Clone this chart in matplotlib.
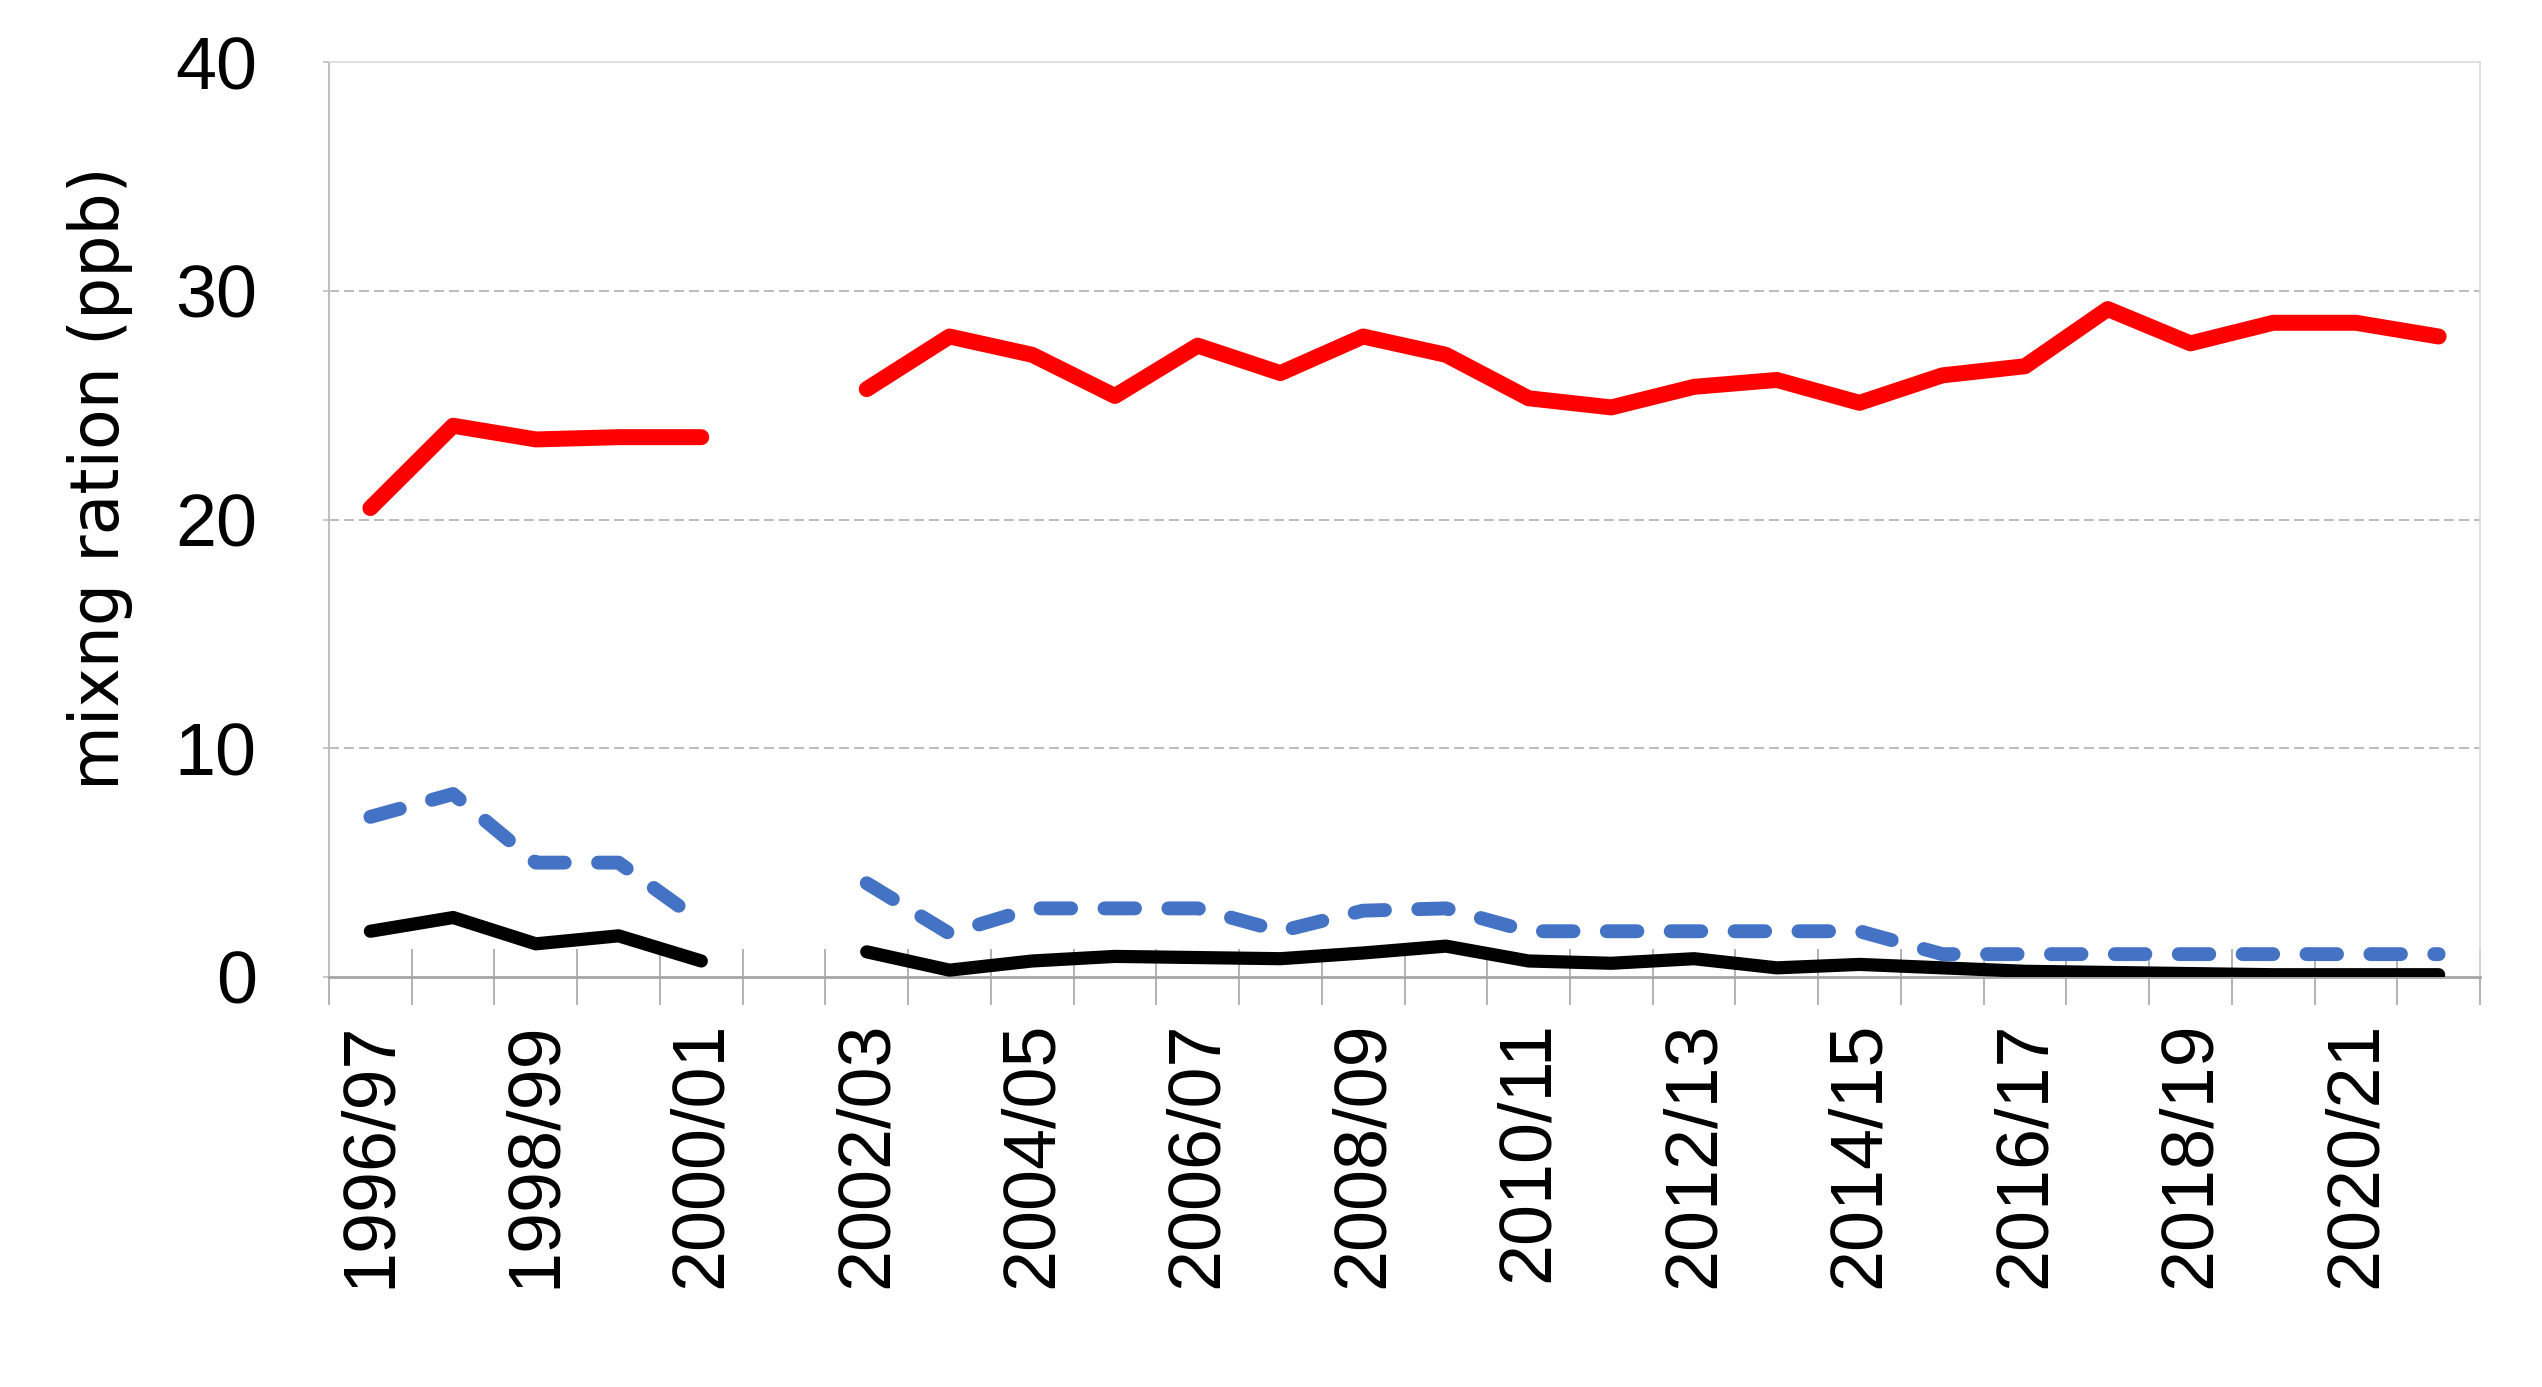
#!/usr/bin/env python3
"""Seasonal mixing ratio line chart (1996/97 - 2021/22)."""

import matplotlib as mpl
import matplotlib.pyplot as plt
import numpy as np
from matplotlib.ticker import FixedLocator, NullFormatter

DPI = 100
W, H = 2542, 1387

SEASONS = [
    "1996/97", "1997/98", "1998/99", "1999/00", "2000/01", "2001/02",
    "2002/03", "2003/04", "2004/05", "2005/06", "2006/07", "2007/08",
    "2008/09", "2009/10", "2010/11", "2011/12", "2012/13", "2013/14",
    "2014/15", "2015/16", "2016/17", "2017/18", "2018/19", "2019/20",
    "2020/21", "2021/22",
]
nan = np.nan
RED_SERIES = [20.5, 24.1, 23.5, 23.6, 23.6, nan, 25.7, 28.0, 27.2, 25.4,
              27.6, 26.4, 28.0, 27.2, 25.3, 24.9, 25.8, 26.1, 25.1, 26.3,
              26.7, 29.2, 27.7, 28.6, 28.6, 28.0]
BLUE_SERIES = [7.0, 8.0, 5.0, 5.0, 2.4, nan, 4.1, 1.9, 3.0, 3.0,
               3.0, 2.0, 2.9, 3.0, 2.0, 2.0, 2.0, 2.0, 2.0, 1.0,
               1.0, 1.0, 1.0, 1.0, 1.0, 1.0]
BLACK_SERIES = [2.0, 2.6, 1.45, 1.8, 0.7, nan, 1.1, 0.3, 0.7, 0.9,
                0.85, 0.8, 1.05, 1.35, 0.7, 0.6, 0.8, 0.4, 0.55, 0.4,
                0.25, 0.2, 0.15, 0.1, 0.1, 0.1]
Y_TICKS = [0, 10, 20, 30, 40]
Y_LABEL = "mixng ration (ppb)"


def setup() -> None:
    mpl.rcParams.update(
        {
            "font.family": ["Liberation Sans", "DejaVu Sans"],
            "figure.dpi": DPI,
            "savefig.dpi": DPI,
        }
    )


def main() -> None:
    setup()
    fig = plt.figure(figsize=(W / DPI, H / DPI))
    left, right, top, bottom = 329, 2480, 62, 977
    ax = fig.add_axes([left / W, 1 - bottom / H, (right - left) / W, (bottom - top) / H])

    x = np.arange(len(SEASONS))
    ax.plot(x, BLACK_SERIES, color="black", linewidth=9.5,
            solid_joinstyle="round", solid_capstyle="round", zorder=3)
    ax.plot(x, BLUE_SERIES, color="#4472C4", linewidth=10, linestyle=(0, (2.2, 2.4)),
            dash_capstyle="round", dash_joinstyle="round", zorder=4)
    ax.plot(x, RED_SERIES, color="#FF0000", linewidth=11.5,
            solid_joinstyle="round", solid_capstyle="round", zorder=5)

    ax.set_xlim(-0.5, len(SEASONS) - 0.5)
    ax.set_ylim(0, 40)

    # labels on every second season, tick marks between categories
    ax.set_xticks(x[::2], SEASONS[::2], rotation=90)
    ax.tick_params(axis="x", which="major", length=0, pad=32, labelsize=53)
    ax.xaxis.set_minor_locator(FixedLocator(np.arange(-0.5, len(SEASONS), 1.0)))
    ax.xaxis.set_minor_formatter(NullFormatter())
    ax.tick_params(axis="x", which="minor", direction="inout", length=40,
                   width=1.2, color="#a6a6a6")

    ax.set_yticks(Y_TICKS)
    ax.tick_params(axis="y", length=4, width=1.2, color="#bfbfbf", pad=48, labelsize=53)

    for yv in Y_TICKS[1:-1]:
        ax.axhline(yv, color="#b0b0b0", linewidth=1.2, linestyle=(0, (6, 3)), zorder=1)

    ax.spines["left"].set_color("#bfbfbf")
    ax.spines["left"].set_linewidth(1.5)
    ax.spines["bottom"].set_color("#a6a6a6")
    ax.spines["bottom"].set_linewidth(2.0)
    ax.spines["top"].set_color("#d9d9d9")
    ax.spines["top"].set_linewidth(1.2)
    ax.spines["right"].set_color("#d9d9d9")
    ax.spines["right"].set_linewidth(1.2)

    fig.text(100 / W, 1 - 478 / H, Y_LABEL, rotation=90, ha="center", va="center",
             fontsize=48, family="DejaVu Sans")

    fig.savefig("out.png", dpi=DPI)
    plt.close(fig)


if __name__ == "__main__":
    main()
